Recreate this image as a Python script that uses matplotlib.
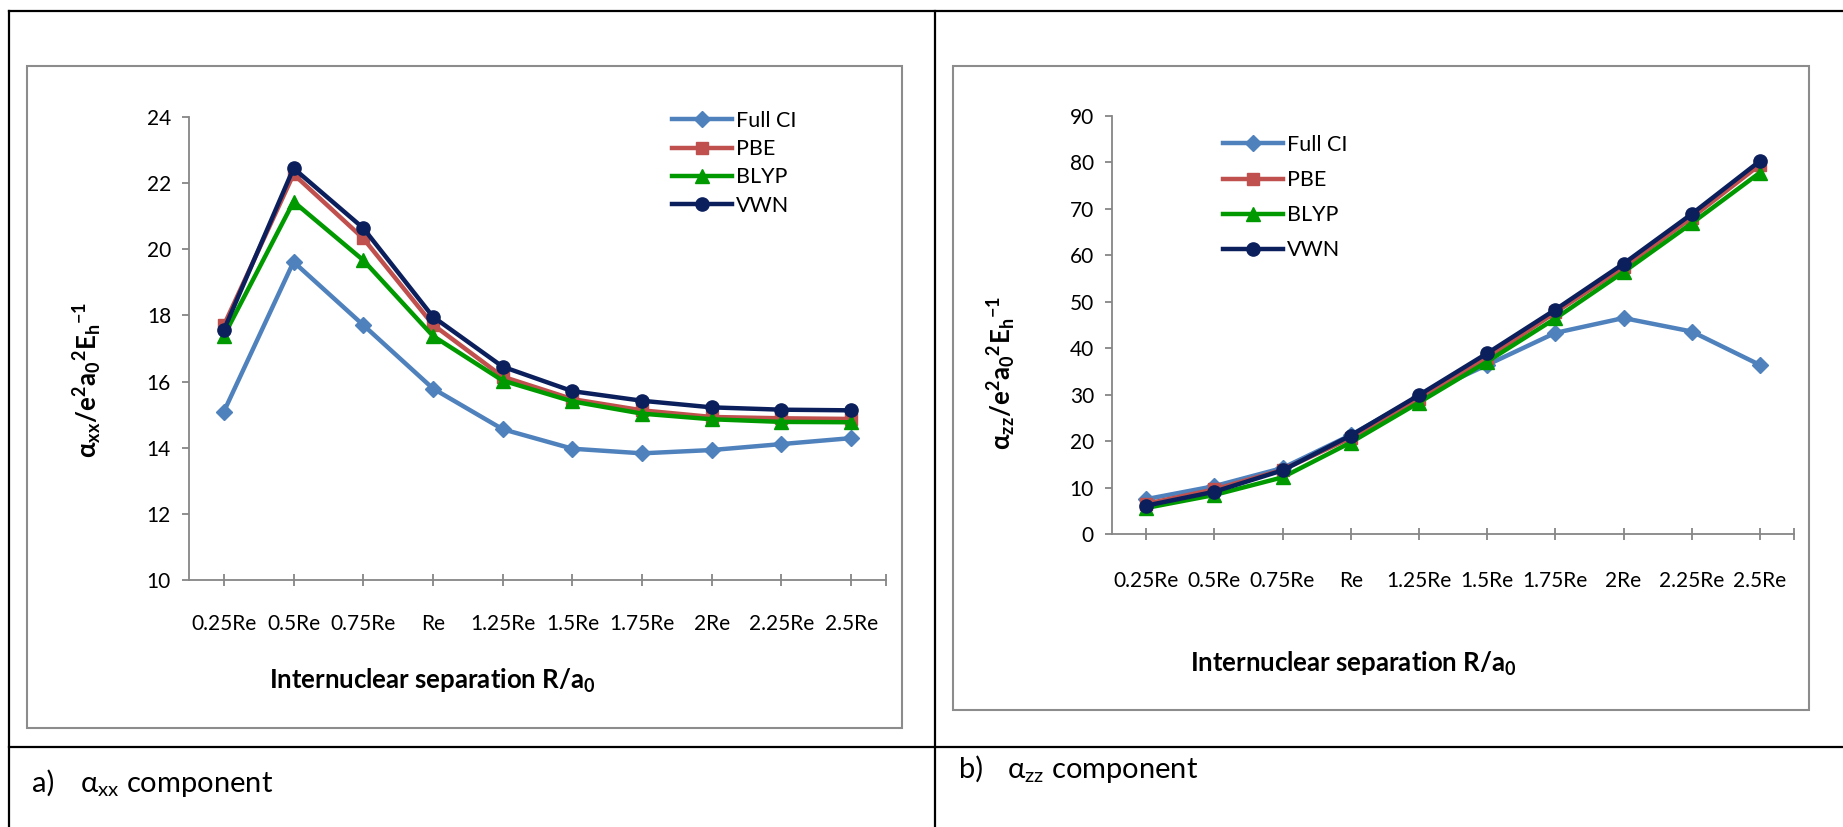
import matplotlib
matplotlib.use("Agg")
import matplotlib.pyplot as plt
from matplotlib.patches import Rectangle
from matplotlib.lines import Line2D

W, H = 1843, 827
DPI = 100

separations = ['0.25Re', '0.5Re', '0.75Re', 'Re', '1.25Re',
               '1.5Re', '1.75Re', '2Re', '2.25Re', '2.5Re']

# alpha_xx component
xx_full_ci = [15.09, 19.62, 17.71, 15.79, 14.56, 13.97, 13.83, 13.93, 14.11, 14.29]
xx_pbe = [17.70, 22.27, 20.33, 17.72, 16.15, 15.47, 15.13, 14.93, 14.89, 14.87]
xx_blyp = [17.38, 21.44, 19.67, 17.38, 16.03, 15.40, 15.03, 14.86, 14.78, 14.77]
xx_vwn = [17.56, 22.45, 20.64, 17.96, 16.45, 15.71, 15.42, 15.22, 15.15, 15.13]

# alpha_zz component
zz_full_ci = [7.5, 10.3, 14.2, 21.3, 29.6, 36.4, 43.3, 46.5, 43.6, 36.4]
zz_pbe = [6.5, 9.6, 13.8, 20.7, 29.0, 37.9, 47.7, 57.4, 68.1, 79.5]
zz_blyp = [5.6, 8.4, 12.2, 19.7, 28.3, 37.1, 46.4, 56.4, 66.9, 77.8]
zz_vwn = [6.1, 9.1, 13.7, 21.2, 29.9, 38.9, 48.3, 58.2, 68.9, 80.3]

method_names = ['Full CI', 'PBE', 'BLYP', 'VWN']
colors = ['#4F81BD', '#C0504D', '#009A00', '#0A1F5C']
markers = ['D', 's', '^', 'o']
marker_sizes = [8, 8, 9.5, 9.5]

FONT = ['Lato', 'DejaVu Sans']
AXIS_GREY = '#868686'


def fx(x):
    return x / W


def fy(y):
    return 1 - y / H


fig = plt.figure(figsize=(W / DPI, H / DPI), dpi=DPI)

# table grid around the two panels
for xs, ys in [([9, W], [11, 11]), ([9, 9], [11, H]), ([935, 935], [11, H]),
               ([9, W], [747, 747])]:
    fig.add_artist(Line2D([fx(v) for v in xs], [fy(v) for v in ys],
                          color='black', lw=1.6, transform=fig.transFigure))

# chart-area frames
for x0, y0, x1, y1 in [(27, 66, 902, 728), (953, 66, 1809, 710)]:
    fig.add_artist(Rectangle((fx(x0), fy(y1)), fx(x1) - fx(x0), fy(y0) - fy(y1),
                             fill=False, edgecolor='#8C8C8C', lw=1.5,
                             transform=fig.transFigure))


def draw_panel(box, ylim, ystep, series, legend_at, legend_gap, xpad):
    left, top, right, bottom = box
    ax = fig.add_axes([fx(left), fy(bottom), fx(right) - fx(left), fy(top) - fy(bottom)])
    x = range(len(separations))
    for vals, name, c, m, ms in zip(series, method_names, colors, markers, marker_sizes):
        ax.plot(x, vals, color=c, lw=3.2, marker=m, ms=ms, mfc=c, mec=c,
                label=name, solid_joinstyle='round')
    ax.set_xlim(-0.5, len(separations) - 0.5)
    ax.set_ylim(*ylim)
    ax.set_yticks(range(ylim[0], ylim[1] + 1, ystep))
    ax.set_xticks(list(x))
    ax.set_xticks([len(separations) - 0.5], minor=True)
    ax.set_xticklabels(separations)
    for s in ['top', 'right']:
        ax.spines[s].set_visible(False)
    for s in ['left', 'bottom']:
        ax.spines[s].set_color(AXIS_GREY)
        ax.spines[s].set_linewidth(1.3)
    ax.tick_params(axis='x', which='both', direction='inout', length=9,
                   width=1.3, color=AXIS_GREY, pad=xpad)
    ax.tick_params(axis='y', direction='out', length=5, width=1.3,
                   color=AXIS_GREY, pad=8)
    for lab in ax.get_xticklabels() + ax.get_yticklabels():
        lab.set_family(FONT)
        lab.set_fontsize(15)
    ax.legend(loc='upper left', bbox_to_anchor=(fx(legend_at[0]), fy(legend_at[1])),
              bbox_transform=fig.transFigure, frameon=False, borderpad=0,
              borderaxespad=0, handlelength=2.8, handletextpad=0.15,
              labelspacing=legend_gap, prop={'family': FONT, 'size': 15.5})
    return ax


ax_a = draw_panel((189, 117, 886, 580), (10, 24), 2,
                  [xx_full_ci, xx_pbe, xx_blyp, xx_vwn], (672, 111), 0.38, 20)
ax_b = draw_panel((1112, 116, 1794, 534), (0, 90), 10,
                  [zz_full_ci, zz_pbe, zz_blyp, zz_vwn], (1223, 135), 0.7, 22)

title_kw = dict(family=FONT, fontsize=18.5, fontweight='bold')
fig.text(fx(432), fy(681), r'Internuclear separation R/a$\mathregular{_0}$',
         ha='center', va='center', **title_kw)
fig.text(fx(1353), fy(664), r'Internuclear separation R/a$\mathregular{_0}$',
         ha='center', va='center', **title_kw)
fig.text(fx(88), fy(380), r'$\mathregular{\alpha_{xx}/e^2a_0{}^2E_h{}^{-1}}$',
         ha='center', va='center', rotation=90, **title_kw)
fig.text(fx(1002), fy(373), r'$\mathregular{\alpha_{zz}/e^2a_0{}^2E_h{}^{-1}}$',
         ha='center', va='center', rotation=90, **title_kw)

# captions under each panel
cap_kw = dict(family=FONT, fontsize=21, va='baseline')
fig.text(fx(32), fy(792), 'a)', **cap_kw)
fig.text(fx(80), fy(792), r'$\mathregular{\alpha_{xx}}$ component', **cap_kw)
fig.text(fx(959), fy(778), 'b)', **cap_kw)
fig.text(fx(1007), fy(778), r'$\mathregular{\alpha_{zz}}$ component', **cap_kw)

fig.savefig('out.png', dpi=DPI)
